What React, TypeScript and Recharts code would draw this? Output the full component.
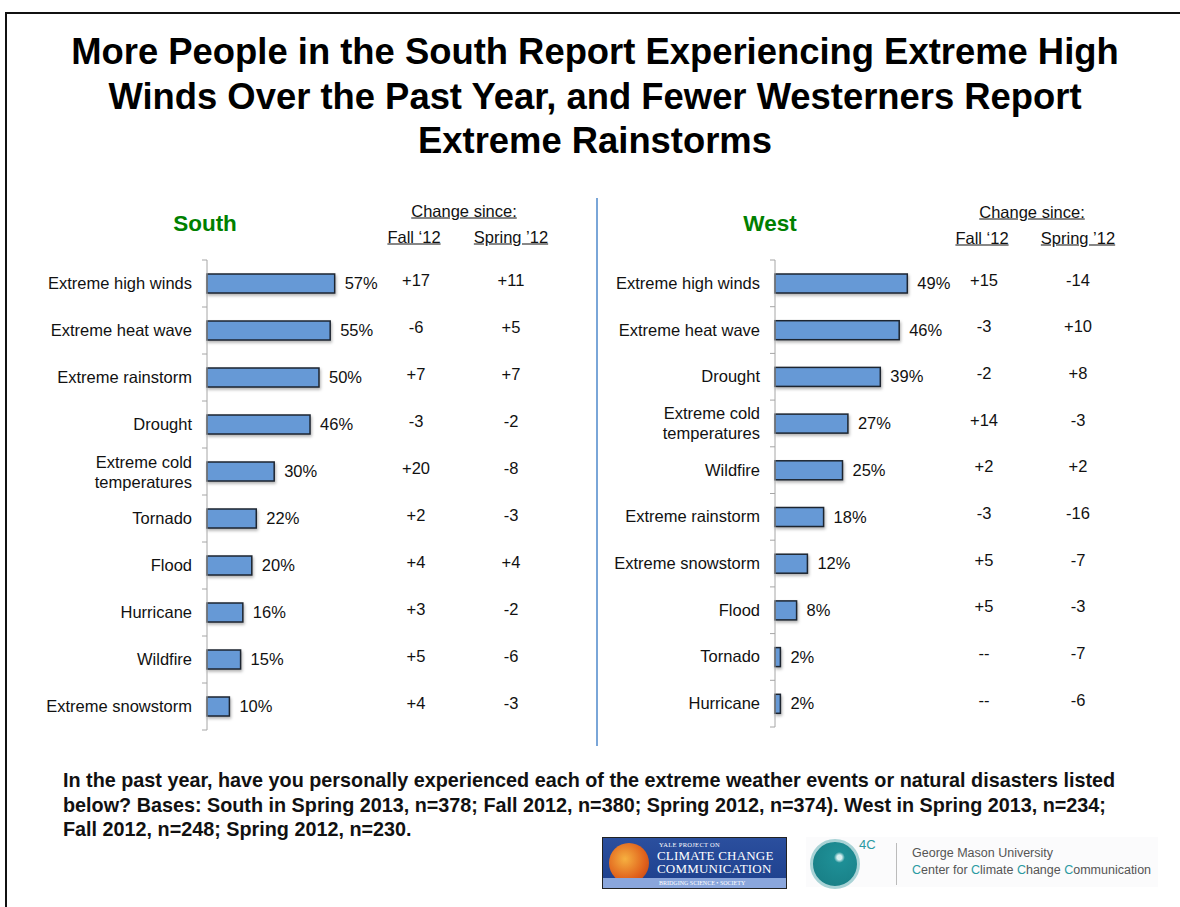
import React from 'react';
import { BarChart, Bar, XAxis, YAxis, LabelList } from 'recharts';

// South panel
const southCats = [
  'Extreme high winds',
  'Extreme heat wave',
  'Extreme rainstorm',
  'Drought',
  'Extreme cold temperatures',
  'Tornado',
  'Flood',
  'Hurricane',
  'Wildfire',
  'Extreme snowstorm',
];
const southVals = [57, 55, 50, 46, 30, 22, 20, 16, 15, 10];
const southFall = ['+17', '-6', '+7', '-3', '+20', '+2', '+4', '+3', '+5', '+4'];
const southSpring = ['+11', '+5', '+7', '-2', '-8', '-3', '+4', '-2', '-6', '-3'];

// West panel
const westCats = [
  'Extreme high winds',
  'Extreme heat wave',
  'Drought',
  'Extreme cold temperatures',
  'Wildfire',
  'Extreme rainstorm',
  'Extreme snowstorm',
  'Flood',
  'Tornado',
  'Hurricane',
];
const westVals = [49, 46, 39, 27, 25, 18, 12, 8, 2, 2];
const westFall = ['+15', '-3', '-2', '+14', '+2', '-3', '+5', '+5', '--', '--'];
const westSpring = ['-14', '+10', '+8', '-3', '+2', '-16', '-7', '-3', '-7', '-6'];

const FONT = '"Liberation Sans", Arial, Helvetica, sans-serif';
const FS = 16.5;
const BAR_FILL = '#6699d6';
const BAR_STROKE = '#1d2530';

const rows = (cats: string[], vals: number[], fall: string[], spring: string[]) =>
  cats.map((name, i) => ({ name, value: vals[i], fall: fall[i], spring: spring[i] }));

function splitLabel(s: string): string[] {
  if (s.length <= 20) return [s];
  const k = s.lastIndexOf(' ');
  return [s.slice(0, k), s.slice(k + 1)];
}

function CatTick(props: any) {
  const { y, payload, index, axisX, band, count } = props;
  const lines = splitLabel(String(payload.value));
  const tx = axisX - 15;
  return (
    <g>
      <line x1={axisX - 5} x2={axisX} y1={y - band / 2} y2={y - band / 2} stroke="#a6a6a6" />
      {index === count - 1 && (
        <line x1={axisX - 5} x2={axisX} y1={y + band / 2} y2={y + band / 2} stroke="#a6a6a6" />
      )}
      <text x={tx} y={y} textAnchor="end" fontSize={FS} fill="#111" fontFamily={FONT}>
        {lines.map((l, i) => (
          <tspan key={i} x={tx} dy={i === 0 ? (lines.length > 1 ? -4 : 5.5) : 20}>
            {l}
          </tspan>
        ))}
      </text>
    </g>
  );
}

function BarShape(props: any) {
  const { x, y, width, height } = props;
  return (
    <rect
      x={x}
      y={y}
      width={Math.max(width, 0)}
      height={height}
      fill={BAR_FILL}
      stroke={BAR_STROKE}
      strokeWidth={1.5}
      style={{ filter: 'drop-shadow(1.5px 2px 1.5px rgba(0,0,0,0.3))' }}
    />
  );
}

interface PanelProps {
  data: { name: string; value: number; fall: string; spring: string }[];
  width: number;
  height: number;
  axisW: number;
  domainMax: number;
  fallX: number;
  springX: number;
}

function Panel({ data, width, height, axisW, domainMax, fallX, springX }: PanelProps) {
  const margin = { top: 10, right: 0, bottom: 10, left: 0 };
  const band = (height - margin.top - margin.bottom) / data.length;
  const colText = (cx: number) => (p: any) => {
    const cy = p.y + p.height / 2 + 2;
    return (
      <text x={cx} y={cy} textAnchor="middle" fontSize={FS} fill="#111" fontFamily={FONT}>
        {p.value}
      </text>
    );
  };
  return (
    <BarChart layout="vertical" width={width} height={height} data={data} margin={margin}>
      <XAxis type="number" domain={[0, domainMax]} hide />
      <YAxis
        type="category"
        dataKey="name"
        width={axisW}
        axisLine={{ stroke: '#a6a6a6' }}
        tickLine={false}
        interval={0}
        tick={(p: any) => <CatTick {...p} axisX={axisW} band={band} count={data.length} />}
      />
      <Bar dataKey="value" barSize={19} shape={BarShape} isAnimationActive={false}>
        <LabelList
          dataKey="value"
          content={(p: any) => (
            <text
              x={p.x + p.width + 10}
              y={p.y + p.height / 2 + 5.5}
              fontSize={FS}
              fill="#111"
              fontFamily={FONT}
            >
              {p.value}%
            </text>
          )}
        />
        <LabelList dataKey="fall" content={colText(fallX)} />
        <LabelList dataKey="spring" content={colText(springX)} />
      </Bar>
    </BarChart>
  );
}

function Txt({ x, y, children, style }: { x: number; y: number; children: React.ReactNode; style?: React.CSSProperties }) {
  return (
    <div
      style={{
        position: 'absolute',
        left: x,
        top: y,
        transform: 'translate(-50%, -50%)',
        whiteSpace: 'nowrap',
        fontSize: FS,
        color: '#111',
        ...style,
      }}
    >
      {children}
    </div>
  );
}

function Header({ region, cx, changeX, fallX, springX, y0 }: any) {
  return (
    <>
      <Txt x={cx} y={224} style={{ color: '#008000', fontWeight: 'bold', fontSize: 22.5 }}>
        {region}
      </Txt>
      <Txt x={changeX} y={y0} style={{ textDecoration: 'underline' }}>
        Change since:
      </Txt>
      <Txt x={fallX} y={y0 + 26} style={{ textDecoration: 'underline' }}>
        Fall ‘12
      </Txt>
      <Txt x={springX} y={y0 + 26} style={{ textDecoration: 'underline' }}>
        Spring ’12
      </Txt>
    </>
  );
}

function Logos() {
  return (
    <>
      <div
        style={{
          position: 'absolute',
          left: 602,
          top: 837,
          width: 183,
          height: 50,
          background: 'linear-gradient(#2b4f9e, #1d3f8c)',
          border: '1px solid #222',
          overflow: 'hidden',
          fontFamily: '"Liberation Serif", "DejaVu Serif", serif',
          color: '#fff',
        }}
      >
        <div
          style={{
            position: 'absolute',
            left: 6,
            top: 5,
            width: 40,
            height: 40,
            borderRadius: '50%',
            background: 'radial-gradient(circle at 40% 40%, #f6b040, #e0611c 60%, #b53a12)',
          }}
        />
        <div style={{ position: 'absolute', left: 56, top: 3, fontSize: 6.5, lineHeight: '7px', letterSpacing: 0.3 }}>
          YALE PROJECT ON
        </div>
        <div style={{ position: 'absolute', left: 54, top: 11, fontSize: 13, lineHeight: '13px', letterSpacing: 0.2 }}>
          CLIMATE CHANGE
          <br />
          COMMUNICATION
        </div>
        <div
          style={{
            position: 'absolute',
            left: 0,
            top: 40,
            width: 183,
            height: 10,
            background: '#8aa6dc',
            fontSize: 6,
            paddingLeft: 56,
            lineHeight: '10px',
          }}
        >
          BRIDGING SCIENCE • SOCIETY
        </div>
      </div>
      <div style={{ position: 'absolute', left: 806, top: 837, width: 352, height: 50, background: '#fbfbfc' }} />
      <div
        style={{
          position: 'absolute',
          left: 810,
          top: 839,
          width: 44,
          height: 44,
          borderRadius: '50%',
          border: '3px solid #a9d3d6',
          background: 'radial-gradient(circle at 60% 35%, #d8eff0 6%, #1e8f96 14%, #177b82)',
        }}
      />
      <div style={{ position: 'absolute', left: 859, top: 838, fontSize: 13, lineHeight: '14px', color: '#2a9aa2' }}>4C</div>
      <div style={{ position: 'absolute', left: 896, top: 843, width: 1, height: 42, background: '#bbb' }} />
      <div style={{ position: 'absolute', left: 912, top: 845, fontSize: 12.5, color: '#555', lineHeight: '17px' }}>
        George Mason University
        <br />
        <span style={{ color: '#2a9aa2' }}>C</span>enter for <span style={{ color: '#2a9aa2' }}>C</span>limate{' '}
        <span style={{ color: '#2a9aa2' }}>C</span>hange <span style={{ color: '#2a9aa2' }}>C</span>ommunication
      </div>
    </>
  );
}

export default function App() {
  const south = rows(southCats, southVals, southFall, southSpring);
  const west = rows(westCats, westVals, westFall, westSpring);
  return (
    <div
      style={{
        position: 'absolute',
        left: 0,
        top: 0,
        width: 1180,
        height: 907,
        overflow: 'hidden',
        background: '#fff',
        fontFamily: FONT,
        color: '#111',
      }}
    >
      <div
        style={{
          position: 'absolute',
          left: 5,
          top: 12,
          width: 2000,
          height: 2000,
          borderTop: '2px solid #111',
          borderLeft: '2px solid #111',
        }}
      />
      <div
        style={{
          position: 'absolute',
          left: 10,
          top: 30,
          width: 1170,
          textAlign: 'center',
          fontWeight: 'bold',
          fontSize: 36.4,
          lineHeight: '44.5px',
          color: '#000',
        }}
      >
        More People in the South Report Experiencing Extreme High
        <br />
        Winds Over the Past Year, and Fewer Westerners Report
        <br />
        Extreme Rainstorms
      </div>

      <Header region="South" cx={205} changeX={464} fallX={414} springX={511} y0={211} />
      <Header region="West" cx={770} changeX={1032} fallX={982} springX={1078} y0={212} />

      <div style={{ position: 'absolute', left: 0, top: 250 }}>
        <Panel data={south} width={590} height={490} axisW={207} domainMax={171} fallX={416} springX={511} />
      </div>
      <div style={{ position: 'absolute', left: 597, top: 250 }}>
        <Panel data={west} width={583} height={487} axisW={178} domainMax={150} fallX={387} springX={481} />
      </div>

      <div style={{ position: 'absolute', left: 596, top: 198, width: 2, height: 548, background: '#7aa6d8' }} />

      <div
        style={{
          position: 'absolute',
          left: 63,
          top: 768,
          fontWeight: 'bold',
          fontSize: 19.8,
          lineHeight: '24.5px',
          whiteSpace: 'nowrap',
        }}
      >
        In the past year, have you personally experienced each of the extreme weather events or natural disasters listed
        <br />
        below? Bases: South in Spring 2013, n=378; Fall 2012, n=380; Spring 2012, n=374). West in Spring 2013, n=234;
        <br />
        Fall 2012, n=248; Spring 2012, n=230.
      </div>

      <Logos />
    </div>
  );
}
